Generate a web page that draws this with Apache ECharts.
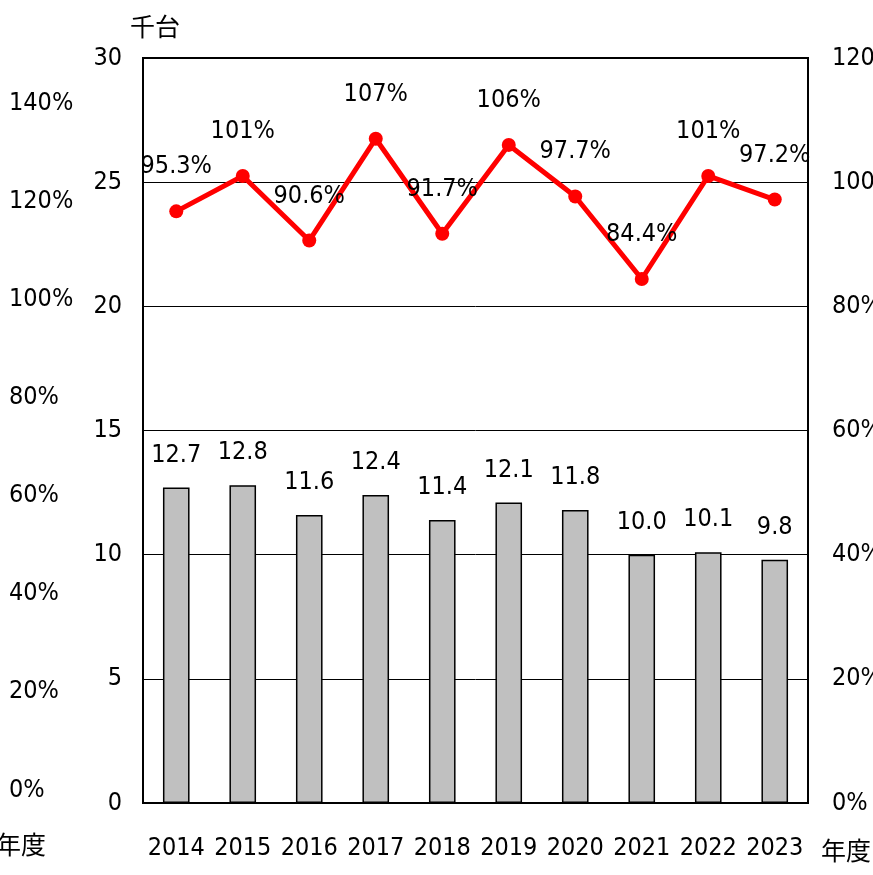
<!DOCTYPE html>
<html>
<head>
<meta charset="utf-8">
<script src="https://cdn.jsdelivr.net/npm/echarts@6/dist/echarts.min.js"></script>
<style>
  html, body { margin: 0; padding: 0; background: #fff; }
  #chart { width: 873px; height: 875px; }
</style>
</head>
<body>
<div id="chart"></div>
<script>
// 年度
var years = ["2014", "2015", "2016", "2017", "2018", "2019", "2020", "2021", "2022", "2023"];
// 千台
var units = [12.7, 12.8, 11.6, 12.4, 11.4, 12.1, 11.8, 10.0, 10.1, 9.8];
// 前年比 (%)
var ratio = [95.3, 101, 90.6, 107, 91.7, 106, 97.7, 84.4, 101, 97.2];

var font = "'DejaVu Sans Condensed', 'Liberation Sans', sans-serif";
var cjk = "'Noto Sans CJK JP', sans-serif";
var fs = 25;

var chart = echarts.init(document.getElementById("chart"));
var option = {
	animation: false,
	backgroundColor: "#fff",
	grid: [
		{ left: 143, right: 65, top: 58, bottom: 72, show: true, borderColor: "#000", borderWidth: 2, outerBoundsMode: "none" },
		{ left: 70, right: 780, top: 103, bottom: 85, outerBoundsMode: "none" }
	],
	xAxis: [
		{
			type: "category",
			data: years,
			gridIndex: 0,
			axisLine: { lineStyle: { color: "#000", width: 2 } },
			axisTick: { inside: true, length: 10, lineStyle: { color: "#000", width: 1.5 } },
			axisLabel: { color: "#000", fontFamily: font, fontSize: fs, margin: 33, interval: 0 }
		},
		{ type: "value", gridIndex: 1, show: false }
	],
	yAxis: [
		{
			type: "value",
			gridIndex: 0,
			min: 0,
			max: 30,
			interval: 5,
			axisLine: { show: true, lineStyle: { color: "#000", width: 2 } },
			axisTick: { show: false },
			splitLine: { lineStyle: { color: "#000", width: 1 } },
			axisLabel: { color: "#000", fontFamily: font, fontSize: fs, margin: 21 }
		},
		{
			type: "value",
			gridIndex: 0,
			position: "right",
			min: 0,
			max: 120,
			interval: 20,
			axisLine: { show: false },
			axisTick: { show: false },
			splitLine: { show: false },
			axisLabel: { color: "#000", fontFamily: font, fontSize: fs, margin: 24, formatter: "{value}%" }
		},
		{
			type: "value",
			gridIndex: 1,
			min: 0,
			max: 140,
			interval: 20,
			axisLine: { show: false },
			axisTick: { show: false },
			splitLine: { show: false },
			axisLabel: { color: "#000", fontFamily: font, fontSize: fs, margin: 61, align: "left", formatter: "{value}%" }
		}
	],
	graphic: [
		{ type: "text", left: 130, top: 14, style: { text: "千台", font: "25px " + cjk, fill: "#000" } },
		{ type: "text", left: -4, top: 832, style: { text: "年度", font: "25px " + cjk, fill: "#000" } },
		{ type: "text", left: 821, top: 838, style: { text: "年度", font: "25px " + cjk, fill: "#000" } }
	],
	series: [
		{
			type: "bar",
			xAxisIndex: 0,
			yAxisIndex: 0,
			data: units,
			barWidth: "40%",
			itemStyle: { color: "#c0c0c0", borderColor: "#000", borderWidth: 1.5 },
			label: {
				show: true,
				position: "top",
				distance: 20,
				color: "#000",
				fontFamily: font,
				fontSize: fs,
				formatter: function (p) { return p.value.toFixed(1); }
			}
		},
		{
			type: "line",
			xAxisIndex: 0,
			yAxisIndex: 1,
			data: ratio,
			symbol: "circle",
			symbolSize: 14,
			lineStyle: { color: "#ff0000", width: 5 },
			itemStyle: { color: "#ff0000" },
			label: {
				show: true,
				position: "top",
				distance: 25,
				color: "#000",
				fontFamily: font,
				fontSize: fs,
				formatter: "{c}%"
			}
		}
	]
};
chart.setOption(option);
</script>
</body>
</html>
